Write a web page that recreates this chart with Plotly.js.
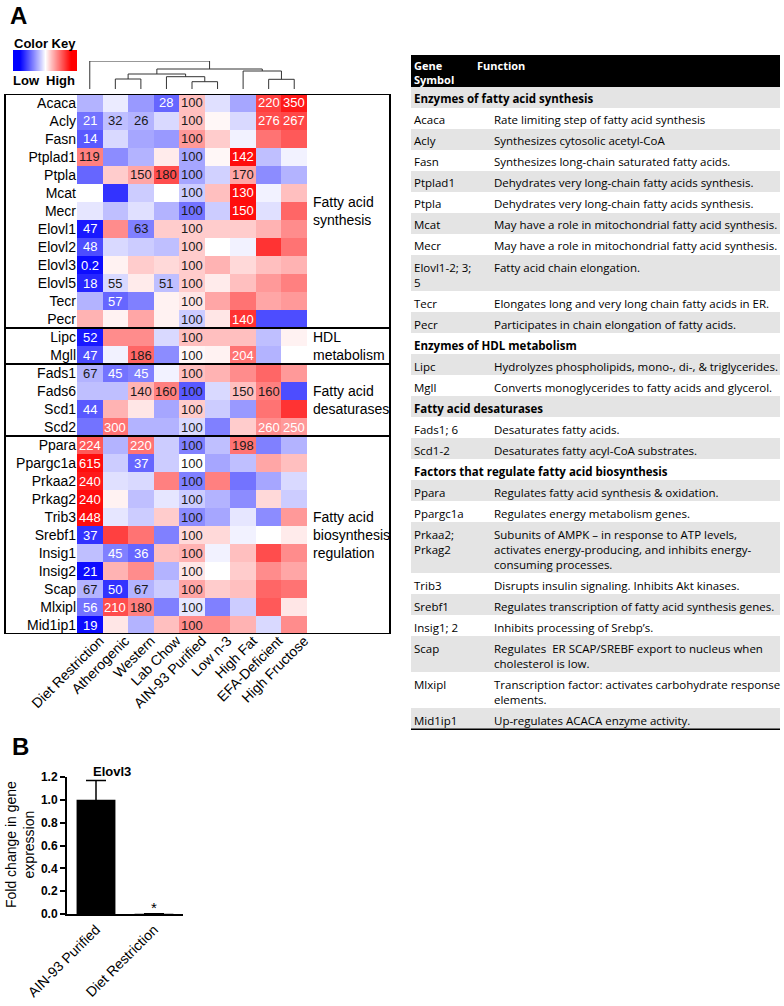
<!DOCTYPE html>
<html>
<head>
<meta charset="utf-8">
<script src="https://cdn.plot.ly/plotly-3.0.1.min.js"></script>
<style>body{margin:0;background:#fff}#chart{width:784px;height:1006px}</style>
</head>
<body>
<div id="chart"></div>
<script>
// figure size in px, used to turn pixel positions into paper fractions
const W = 784, H = 1006;
function px(x) { return x / W; }
function py(y) { return 1 - y / H; }

// ---- panel A heatmap data ----
const dietCols = ["Diet Restriction", "Atherogenic", "Western", "Lab Chow", "AIN-93 Purified",
                  "Low n-3", "High Fat", "EFA-Deficient", "High Fructose"];
const geneRows = ["Acaca", "Acly", "Fasn", "Ptplad1", "Ptpla", "Mcat", "Mecr", "Elovl1", "Elovl2", "Elovl3",
                  "Elovl5", "Tecr", "Pecr", "Lipc", "Mgll", "Fads1", "Fads6", "Scd1", "Scd2", "Ppara",
                  "Ppargc1a", "Prkaa2", "Prkag2", "Trib3", "Srebf1", "Insig1", "Insig2", "Scap", "Mlxipl", "Mid1ip1"];
const groupNames = ["Fatty acid<br>synthesis", "HDL<br>metabolism", "Fatty acid<br>desaturases",
                    "Fatty acid<br>biosynthesis<br>regulation"];
const groupSizes = [13, 2, 4, 11];

// row-scaled colour value (-1 = blue/low, 1 = red/high)
const colorZ = [
  [-0.3, -0.08, -0.4, -0.6, 0.25, -0.12, -0.35, 0.75, 0.9],
  [-0.55, -0.25, -0.3, -0.15, 0.25, 0.03, -0.15, 0.7, 0.72],
  [-0.65, -0.15, -0.35, -0.4, 0.4, 0.2, -0.05, 0.55, 0.65],
  [0.5, -0.45, -0.3, 0.08, -0.35, 0.03, 0.95, -0.25, -0.05],
  [-0.6, 0.2, 0.35, 0.7, -0.35, -0.18, 0.35, -0.45, -0.3],
  [0, -0.8, -0.2, 0, -0.2, 0.25, 0.95, -0.05, 0.25],
  [-0.1, -0.25, -0.12, -0.3, -0.55, -0.2, 0.95, -0.12, 0.6],
  [-0.9, 0.45, -0.5, 0.2, 0.2, 0.2, 0.2, 0.3, 0.45],
  [-0.7, -0.15, -0.2, -0.25, 0.2, 0, -0.05, 0.8, 0.55],
  [-0.95, 0.05, 0.2, 0.15, 0.2, 0.3, 0.15, 0.25, 0.3],
  [-0.85, -0.15, 0.08, -0.25, 0.2, 0.08, 0.25, 0.4, 0.5],
  [-0.3, -0.6, -0.5, 0.05, 0.1, 0.35, 0.55, 0.35, 0.4],
  [0.3, 0.05, 0.35, 0.05, -0.2, 0.1, 0.8, -0.7, -0.7],
  [-0.9, 0.45, 0.45, -0.15, 0.25, 0.25, 0.25, -0.25, 0.05],
  [-0.7, -0.05, 0.6, -0.45, 0.03, 0.05, 0.55, -0.3, 0],
  [-0.3, -0.55, -0.5, -0.05, 0.25, 0.3, 0.45, 0.6, 0.4],
  [-0.25, -0.25, 0.3, 0.5, -0.65, -0.15, 0.25, 0.5, -0.7],
  [-0.65, 0.3, 0.1, -0.35, 0.2, -0.2, -0.4, 0.55, 0.8],
  [-0.55, 0.55, -0.3, -0.3, -0.15, -0.5, 0.2, 0.45, 0.4],
  [0.65, -0.3, 0.55, -0.2, -0.5, -0.25, 0.55, -0.5, -0.3],
  [0.95, -0.2, -0.6, -0.2, 0, -0.35, -0.25, 0.35, 0.25],
  [0.9, -0.12, -0.15, 0.5, -0.5, 0.5, -0.55, -0.35, -0.15],
  [0.95, 0.05, -0.25, -0.1, -0.2, -0.3, -0.45, 0.15, -0.2],
  [0.95, -0.1, -0.2, 0.2, -0.45, -0.35, -0.1, -0.45, 0.4],
  [-0.8, 0.75, 0.55, -0.5, 0.15, 0.15, -0.05, 0, 0.08],
  [-0.25, -0.5, -0.6, 0.25, 0.3, -0.05, 0.25, 0.7, 0.45],
  [-0.95, 0.3, 0.45, -0.3, 0.1, 0, 0.2, 0.45, 0.35],
  [-0.3, -0.8, -0.3, -0.2, 0.35, 0.2, 0.25, 0.6, 0.55],
  [-0.55, 0.7, 0.5, -0.5, -0.1, -0.5, -0.2, 0.65, 0.1],
  [-0.95, 0.1, -0.3, 0.25, 0.45, 0.45, 0.3, -0.15, 0.45]
];

// % of AIN-93 printed in some cells
const cellLabels = [
  ["", "", "", "28", "100", "", "", "220", "350"],
  ["21", "32", "26", "", "100", "", "", "276", "267"],
  ["14", "", "", "", "100", "", "", "", ""],
  ["119", "", "", "", "100", "", "142", "", ""],
  ["", "", "150", "180", "100", "", "170", "", ""],
  ["", "", "", "", "100", "", "130", "", ""],
  ["", "", "", "", "100", "", "150", "", ""],
  ["47", "", "63", "", "100", "", "", "", ""],
  ["48", "", "", "", "100", "", "", "", ""],
  ["0.2", "", "", "", "100", "", "", "", ""],
  ["18", "55", "", "51", "100", "", "", "", ""],
  ["", "57", "", "", "100", "", "", "", ""],
  ["", "", "", "", "100", "", "140", "", ""],
  ["52", "", "", "", "100", "", "", "", ""],
  ["47", "", "186", "", "100", "", "204", "", ""],
  ["67", "45", "45", "", "100", "", "", "", ""],
  ["", "", "140", "160", "100", "", "150", "160", ""],
  ["44", "", "", "", "100", "", "", "", ""],
  ["", "300", "", "", "100", "", "", "260", "250"],
  ["224", "", "220", "", "100", "", "198", "", ""],
  ["615", "", "37", "", "100", "", "", "", ""],
  ["240", "", "", "", "100", "", "", "", ""],
  ["240", "", "", "", "100", "", "", "", ""],
  ["448", "", "", "", "100", "", "", "", ""],
  ["37", "", "", "", "100", "", "", "", ""],
  ["", "45", "36", "", "100", "", "", "", ""],
  ["21", "", "", "", "100", "", "", "", ""],
  ["67", "50", "67", "", "100", "", "", "", ""],
  ["56", "210", "180", "", "100", "", "", "", ""],
  ["19", "", "", "", "100", "", "", "", ""]
];
// labels printed in dark text (the rest are white); whole AIN-93 column is dark
const darkLabels = ["1,1", "1,2", "3,0", "4,2", "4,3", "4,6", "7,2", "10,1", "10,3", "14,2", "15,0",
                    "16,2", "16,3", "16,6", "16,7", "19,6", "27,0", "27,2", "28,2"];

// column dendrogram: [child a, child b, height]; ids >= 9 are earlier merges
const dendroMerges = [[4, 5, 7.3], [7, 8, 9.7], [1, 2, 10], [3, 9, 12.3], [11, 12, 15],
                      [6, 10, 18], [13, 14, 20], [0, 15, 28]];

const keyValues = [-1, -0.5, 0, 0.5, 1];

// ---- panel B data ----
const barCats = ["AIN-93 Purified", "Diet Restriction"];
const barVals = [1.0, 0.002];
const barErr = [0.17, 0];

// ---- table ----
const tableSymbol = [
  "Enzymes of fatty acid synthesis", "Acaca", "Acly", "Fasn", "Ptplad1", "Ptpla", "Mcat", "Mecr",
  "Elovl1-2; 3;<br>5", "Tecr", "Pecr",
  "Enzymes of HDL metabolism", "Lipc", "Mgll",
  "Fatty acid desaturases", "Fads1; 6", "Scd1-2",
  "Factors that regulate fatty acid biosynthesis", "Ppara", "Ppargc1a", "Prkaa2;<br>Prkag2", "Trib3",
  "Srebf1", "Insig1; 2", "Scap", "Mlxipl", "Mid1ip1"
];
const tableFunction = [
  null, "Rate limiting step of fatty acid synthesis", "Synthesizes cytosolic acetyl-CoA",
  "Synthesizes long-chain saturated fatty acids.", "Dehydrates very long-chain fatty acids synthesis.",
  "Dehydrates very long-chain fatty acids synthesis.", "May have a role in mitochondrial fatty acid synthesis.",
  "May have a role in mitochondrial fatty acid synthesis.", "Fatty acid chain elongation.",
  "Elongates long and very long chain fatty acids in ER.", "Participates in chain elongation of fatty acids.",
  null, "Hydrolyzes phospholipids, mono-, di-, &amp; triglycerides.", "Converts monoglycerides to fatty acids and glycerol.",
  null, "Desaturates fatty acids.", "Desaturates fatty acyl-CoA substrates.",
  null, "Regulates fatty acid synthesis &amp; oxidation.", "Regulates energy metabolism genes.",
  "Subunits of AMPK \u2013 in response to ATP levels,<br>activates energy-producing, and inhibits energy-<br>consuming processes.",
  "Disrupts insulin signaling. Inhibits Akt kinases.", "Regulates transcription of fatty acid synthesis genes.",
  "Inhibits processing of Srebp\u2019s.", "Regulates  ER SCAP/SREBF export to nucleus when<br>cholesterol is low.",
  "Transcription factor: activates carbohydrate response<br>elements.", "Up-regulates ACACA enzyme activity."
];

const FONT = "Liberation Sans, Arial, sans-serif";
const TFONT = "Open Sans, sans-serif";

var traces = [];
var shapes = [];
var annotations = [];

function paperText(x, y, text, size, xanchor) {
  return {xref: "paper", yref: "paper", x: px(x), y: py(y), xanchor: xanchor || "center", yanchor: "middle",
          text: text, showarrow: false, font: {family: FONT, size: size, color: "#000"}};
}

// heatmap
traces.push({
  type: "heatmap",
  z: colorZ,
  x: dietCols.map((d, i) => i),
  y: geneRows.map((g, i) => i),
  zmin: -1, zmax: 1,
  colorscale: [[0, "#0000ff"], [0.5, "#ffffff"], [1, "#ff0000"]],
  showscale: false,
  hoverinfo: "skip",
  xaxis: "x", yaxis: "y"
});

cellLabels.forEach((row, r) => {
  row.forEach((lab, c) => {
    if (lab === "") return;
    var dark = c === 4 || darkLabels.indexOf(r + "," + c) >= 0;
    annotations.push({
      xref: "x", yref: "y", x: c, y: r, xanchor: "center", yanchor: "middle", text: lab, showarrow: false,
      font: {family: FONT, size: 13, color: dark ? "#1a1a1a" : "#ffffff"}
    });
  });
});

// group boxes and labels
var start = 0;
groupSizes.forEach((n, gi) => {
  shapes.push({
    type: "rect", xref: "paper", yref: "y",
    x0: px(5), x1: px(390), y0: start - 0.5, y1: start + n - 0.5,
    line: {color: "#000", width: 2}
  });
  annotations.push({
    xref: "paper", yref: "y", x: px(311), y: start + (n - 1) / 2,
    xanchor: "left", yanchor: "middle", align: "left", showarrow: false,
    text: groupNames[gi], font: {family: FONT, size: 14, color: "#000"}
  });
  start += n;
});

// dendrogram
var dPos = dietCols.map((d, i) => i);
var dH = dietCols.map(() => 0);
var dx = [], dy = [];
dendroMerges.forEach((m) => {
  var a = m[0], b = m[1], h = m[2];
  dx.push(dPos[a], dPos[a], dPos[b], dPos[b], null);
  dy.push(dH[a], h, h, dH[b], null);
  dPos.push((dPos[a] + dPos[b]) / 2);
  dH.push(h);
});
traces.push({
  type: "scatter", mode: "lines", x: dx, y: dy, xaxis: "x2", yaxis: "y2",
  line: {color: "#333", width: 1}, hoverinfo: "skip", showlegend: false
});

// colour key
traces.push({
  type: "heatmap", z: [keyValues], zmin: -1, zmax: 1, zsmooth: "best",
  colorscale: [[0, "#0000ff"], [0.5, "#ffffff"], [1, "#ff0000"]],
  showscale: false, hoverinfo: "skip", xaxis: "x3", yaxis: "y3"
});
annotations.push(
  paperText(45, 43, "<b>Color Key</b>", 13),
  paperText(11, 80, "<b>Low</b>", 13, "left"),
  paperText(77, 80, "<b>High</b>", 13, "right"),
  paperText(8, 15, "<b>A</b>", 24, "left"),
  paperText(10, 746, "<b>B</b>", 24, "left")
);

// panel B bars
traces.push({
  type: "bar", x: barCats, y: barVals, xaxis: "x4", yaxis: "y4",
  marker: {color: "#000"}, width: 0.67, hoverinfo: "skip", showlegend: false,
  error_y: {type: "data", array: barErr, color: "#000", thickness: 1.5, width: 10}
});
var yTitle = paperText(20, 845, "Fold change in gene<br>expression", 14);
yTitle.textangle = -90;
annotations.push(
  paperText(112, 771, "<b>Elovl3</b>", 13),
  {xref: "x4", yref: "y4", x: barCats[1], y: barVals[1], xanchor: "center", yanchor: "bottom", yshift: -4,
   text: "*", showarrow: false, font: {family: FONT, size: 15, color: "#000"}},
  yTitle
);

// table on its own axis, y in px units from table top
const headH = 32, lineH = 15, rowPad = 6;
var tableTop = 55, tableBottom = 730;
var yCur = headH;
shapes.push({type: "rect", xref: "x5", yref: "y5", x0: 0, x1: 1, y0: 0, y1: headH,
             fillcolor: "#000", line: {width: 0}, layer: "below"});
annotations.push(
  {xref: "x5", yref: "y5", x: 0.004, y: 1.5, xanchor: "left", yanchor: "top", align: "left",
   text: "<b>Gene<br>Symbol</b>", showarrow: false, font: {family: TFONT, size: 11, color: "#fff"}},
  {xref: "x5", yref: "y5", x: 0.173, y: 1.5, xanchor: "left", yanchor: "top", align: "left",
   text: "<b>Function</b>", showarrow: false, font: {family: TFONT, size: 11, color: "#fff"}}
);
tableSymbol.forEach((sym, i) => {
  var fn = tableFunction[i];
  var nLines = Math.max(sym.split("<br>").length, fn ? fn.split("<br>").length : 1);
  var h = rowPad + lineH * nLines;
  if (i % 2 === 0) {
    shapes.push({type: "rect", xref: "x5", yref: "y5", x0: 0, x1: 1, y0: yCur, y1: yCur + h,
                 fillcolor: "#e4e4e4", line: {width: 0}, layer: "below"});
  }
  annotations.push({
    xref: "x5", yref: "y5", x: 0.004, y: yCur + 2.5, xanchor: "left", yanchor: "top", align: "left",
    text: fn === null ? "<b>" + sym + "</b>" : sym, showarrow: false,
    font: {family: TFONT, size: 11.5, color: "#000"}
  });
  if (fn !== null) {
    annotations.push({
      xref: "x5", yref: "y5", x: 0.219, y: yCur + 2.5, xanchor: "left", yanchor: "top", align: "left",
      text: fn, showarrow: false, font: {family: TFONT, size: 11.5, color: "#000"}
    });
  }
  yCur += h;
});
shapes.push({type: "line", xref: "x5", yref: "y5", x0: 0, x1: 1, y0: yCur + 1, y1: yCur + 1,
             line: {color: "#000", width: 3}});
traces.push({type: "scatter", x: [], y: [], xaxis: "x5", yaxis: "y5", hoverinfo: "skip", showlegend: false});

var hidden = {visible: false, showgrid: false, zeroline: false, fixedrange: true};

var layout = {
  width: W, height: H,
  margin: {l: 0, r: 0, t: 0, b: 0},
  paper_bgcolor: "#fff", plot_bgcolor: "rgba(0,0,0,0)",
  showlegend: false,
  font: {family: FONT, color: "#000"},
  xaxis: {
    domain: [px(77), px(307)], anchor: "y", range: [-0.5, 8.5], autorange: false,
    tickvals: dietCols.map((d, i) => i), ticktext: dietCols, tickangle: -45,
    ticklabelshift: 10, ticklabelstandoff: -5,
    tickfont: {family: FONT, size: 14, color: "#000"}, ticks: "", showgrid: false, zeroline: false,
    showline: false
  },
  yaxis: {
    domain: [py(634), py(94)], anchor: "x", range: [29.5, -0.5], autorange: false,
    tickvals: geneRows.map((g, i) => i), ticktext: geneRows,
    tickfont: {family: FONT, size: 14, color: "#000"}, ticks: "", showgrid: false, zeroline: false
  },
  xaxis2: Object.assign({domain: [px(77), px(307)], anchor: "y2", range: [-0.5, 8.5], autorange: false}, hidden),
  yaxis2: Object.assign({domain: [py(89), py(61)], anchor: "x2", range: [0, 28], autorange: false}, hidden),
  xaxis3: Object.assign({domain: [px(13), px(77)], anchor: "y3"}, hidden),
  yaxis3: Object.assign({domain: [py(71), py(50)], anchor: "x3"}, hidden),
  xaxis4: {
    domain: [px(67), px(183)], anchor: "y4", range: [-0.5, 1.5], autorange: false,
    showline: true, linecolor: "#000", linewidth: 2, ticks: "", tickangle: -45,
    tickfont: {family: FONT, size: 14, color: "#000"}, showgrid: false, zeroline: false
  },
  yaxis4: {
    domain: [py(914), py(777)], anchor: "x4", range: [0, 1.2], autorange: false,
    tickvals: [0, 0.2, 0.4, 0.6, 0.8, 1.0, 1.2], tickformat: ".1f",
    showline: true, linecolor: "#000", linewidth: 2, ticks: "outside", ticklen: 5, tickwidth: 2,
    tickcolor: "#000", tickfont: {family: FONT, size: 12, color: "#000", weight: "bold"},
    showgrid: false, zeroline: false
  },
  xaxis5: Object.assign({domain: [px(411), px(780)], anchor: "y5", range: [0, 1], autorange: false}, hidden),
  yaxis5: Object.assign({domain: [py(tableBottom), py(tableTop)], anchor: "x5",
                         range: [tableBottom - tableTop, 0], autorange: false}, hidden),
  shapes: shapes,
  annotations: annotations
};

Plotly.newPlot("chart", traces, layout, {staticPlot: true, displayModeBar: false});
</script>
</body>
</html>
